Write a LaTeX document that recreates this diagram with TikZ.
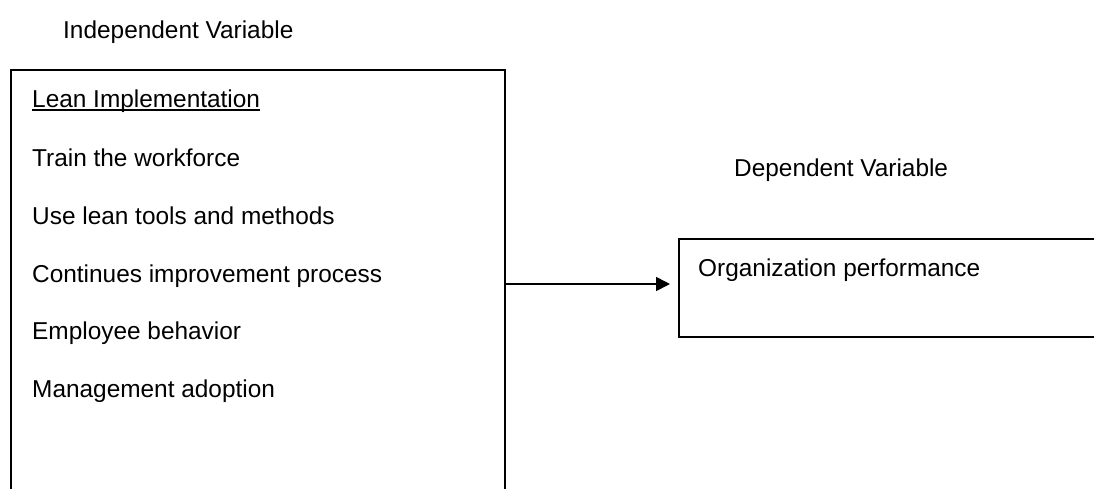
\documentclass[tikz,border=0pt]{standalone}
\usepackage{fontspec}
\setmainfont{Liberation Sans}
\usetikzlibrary{arrows.meta}
\begin{document}
\begin{tikzpicture}[x=1pt,y=-1pt,
  lbl/.style={anchor=base west,inner sep=0pt,font=\fontsize{24.4}{28}\selectfont},
  frame/.style={line width=1.6pt,black},
  uline/.style={line width=1.5pt,black},
  conn/.style={line width=1.6pt,-{Triangle[length=14pt,width=14pt]}}]
\useasboundingbox (0,0) rectangle (1094,488);
\node[lbl] (iv) at (63,38) {Independent Variable};
% left box (bottom open, cut by page edge)
\coordinate (lbl1) at (11,495);
\coordinate (ltl) at (11,70);
\coordinate (ltr) at (505,70);
\coordinate (lbr) at (505,495);
\draw[frame] (lbl1) -- (ltl) -- (ltr) -- (lbr);
\node[lbl] (lean) at (32,107) {Lean Implementation};
\draw[uline] ([yshift=-2.8pt]lean.base west) -- ([yshift=-2.8pt]lean.base east);
\node[lbl] (t1) at (32,166) {Train the workforce};
\node[lbl] (t2) at (32,224) {Use lean tools and methods};
\node[lbl] (t3) at (32,282) {Continues improvement process};
\node[lbl] (t4) at (32,339) {Employee behavior};
\node[lbl] (t5) at (32,397) {Management adoption};
\node[lbl] (dv) at (734,176) {Dependent Variable};
% right box (right side open)
\coordinate (rtr) at (1100,239);
\coordinate (rtl) at (679,239);
\coordinate (rbl) at (679,337);
\coordinate (rbr) at (1100,337);
\draw[frame] (rtr) -- (rtl) -- (rbl) -- (rbr);
\node[lbl] (op) at (698,276) {Organization performance};
\coordinate (as) at (505,284);
\coordinate (ae) at (670,284);
\draw[conn] (as) -- (ae);
\end{tikzpicture}
\end{document}
